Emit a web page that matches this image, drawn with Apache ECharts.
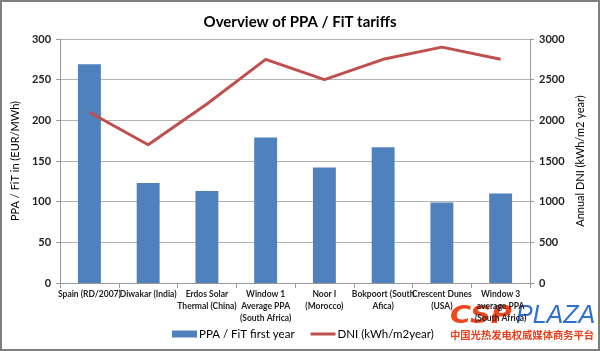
<!DOCTYPE html>
<html>
<head>
<meta charset="utf-8">
<script src="https://cdn.jsdelivr.net/npm/echarts@6/dist/echarts.min.js"></script>
<style>
html, body { margin: 0; padding: 0; background: #fff; }
#chart { width: 600px; height: 351px; box-sizing: border-box; border: 2px solid #7f7f7f; }
</style>
</head>
<body>
<div id="chart"></div>
<script>
// PPA / FiT tariffs vs DNI
var categories = ["Spain (RD/2007)", "Diwakar (India)", "Erdos Solar\nThermal (China)", "Window 1\nAverage PPA\n(South Africa)",
    "Noor I\n(Morocco)", "Bokpoort (South\nAfica)", "Crescent Dunes\n(USA)", "Window 3\naverage PPA\n(South Africa)"];
var ppaValues = [269, 123, 113, 179, 142, 167, 99, 110];
var dniValues = [2100, 1700, 2200, 2750, 2500, 2750, 2900, 2750];
var leftTicks = [0, 50, 100, 150, 200, 250, 300];
var rightTicks = [0, 500, 1000, 1500, 2000, 2500, 3000];

(function(){
    var myChart = echarts.init(document.getElementById("chart"));
    var font = "Lato, 'Open Sans', sans-serif";
    var option = {
        backgroundColor: '#fff',
        animation: false,
        title: {
            text: 'Overview of PPA / FiT tariffs',
            left: 'center',
            top: 8,
            textStyle: { fontFamily: font, fontSize: 15, fontWeight: 'bold', color: '#000' }
        },
        grid: { left: 54, right: 68, top: 37, bottom: 66 },
        legend: {
            top: 321,
            left: 165,
            itemWidth: 25,
            itemHeight: 7,
            itemGap: 16,
            textStyle: { fontFamily: font, fontSize: 11.5, color: '#000', padding: [0, 0, 0, -3] },
            data: [
                { name: 'PPA / FiT first year', icon: 'rect' },
                { name: 'DNI (kWh/m2year)', icon: 'path://M0,0 L18,0 L18,2.2 L0,2.2 Z' }
            ]
        },
        xAxis: {
            type: 'category',
            data: categories,
            axisLine: { lineStyle: { color: '#999' } },
            axisTick: { show: true, alignWithLabel: false, lineStyle: { color: '#999' } },
            axisLabel: { interval: 0, fontFamily: font, fontSize: 8.5, fontWeight: 'bold', color: '#222', lineHeight: 12, margin: 5 }
        },
        yAxis: [{
            type: 'value',
            min: 0, max: 300, interval: 50,
            name: 'PPA / FiT in (EUR/MWh)',
            nameLocation: 'middle',
            nameGap: 27,
            nameTextStyle: { fontFamily: font, fontSize: 11, color: '#000' },
            axisLine: { show: true, lineStyle: { color: '#999' } },
            axisTick: { show: true, length: 4, lineStyle: { color: '#999' } },
            axisLabel: { fontFamily: font, fontSize: 11, fontWeight: 'bold', color: '#222', margin: 9,
                formatter: function(v){ return leftTicks.indexOf(v) >= 0 ? v : ''; } },
            splitLine: { show: true, lineStyle: { color: '#b3b3b3' } }
        }, {
            type: 'value',
            min: 0, max: 3000, interval: 500,
            name: 'Annual DNI (kWh/m2 year)',
            nameLocation: 'middle',
            nameGap: 39,
            nameRotate: 90,
            nameTextStyle: { fontFamily: font, fontSize: 11, color: '#000' },
            axisLine: { show: true, lineStyle: { color: '#999' } },
            axisTick: { show: true, length: 4, lineStyle: { color: '#999' } },
            axisLabel: { fontFamily: font, fontSize: 11, fontWeight: 'bold', color: '#222', margin: 9,
                formatter: function(v){ return rightTicks.indexOf(v) >= 0 ? v : ''; } },
            splitLine: { show: false }
        }],
        series: [{
            name: 'PPA / FiT first year',
            type: 'bar',
            data: ppaValues,
            barWidth: '39%',
            itemStyle: { color: '#4f81bd' }
        }, {
            name: 'DNI (kWh/m2year)',
            type: 'line',
            yAxisIndex: 1,
            data: dniValues,
            symbol: 'none',
            lineStyle: { color: '#c0504d', width: 3 },
            itemStyle: { color: '#c0504d' }
        }],
        graphic: [{
            type: 'text',
            x: 448,
            y: 302,
            scaleX: 1.15,
            style: { text: 'CSP', fontFamily: "'DejaVu Sans', sans-serif", fontSize: 25, fontWeight: 'bold', fontStyle: 'italic', fill: '#f0471c' }
        }, {
            type: 'text',
            x: 514,
            y: 302,
            style: { text: 'PLAZA', fontFamily: "'Liberation Sans', sans-serif", fontSize: 25, fontStyle: 'italic', fill: '#2f6fd0' }
        }, {
            type: 'text',
            x: 448,
            y: 328,
            style: { text: '中国光热发电权威媒体商务平台', fontFamily: "'Noto Sans CJK SC', sans-serif", fontSize: 10.3, fontWeight: 'bold', fill: '#e8401c' }
        }]
    };
    myChart.setOption(option);
    window.addEventListener('resize', function() {
        myChart.resize();
    })
})();
</script>
</body>
</html>
